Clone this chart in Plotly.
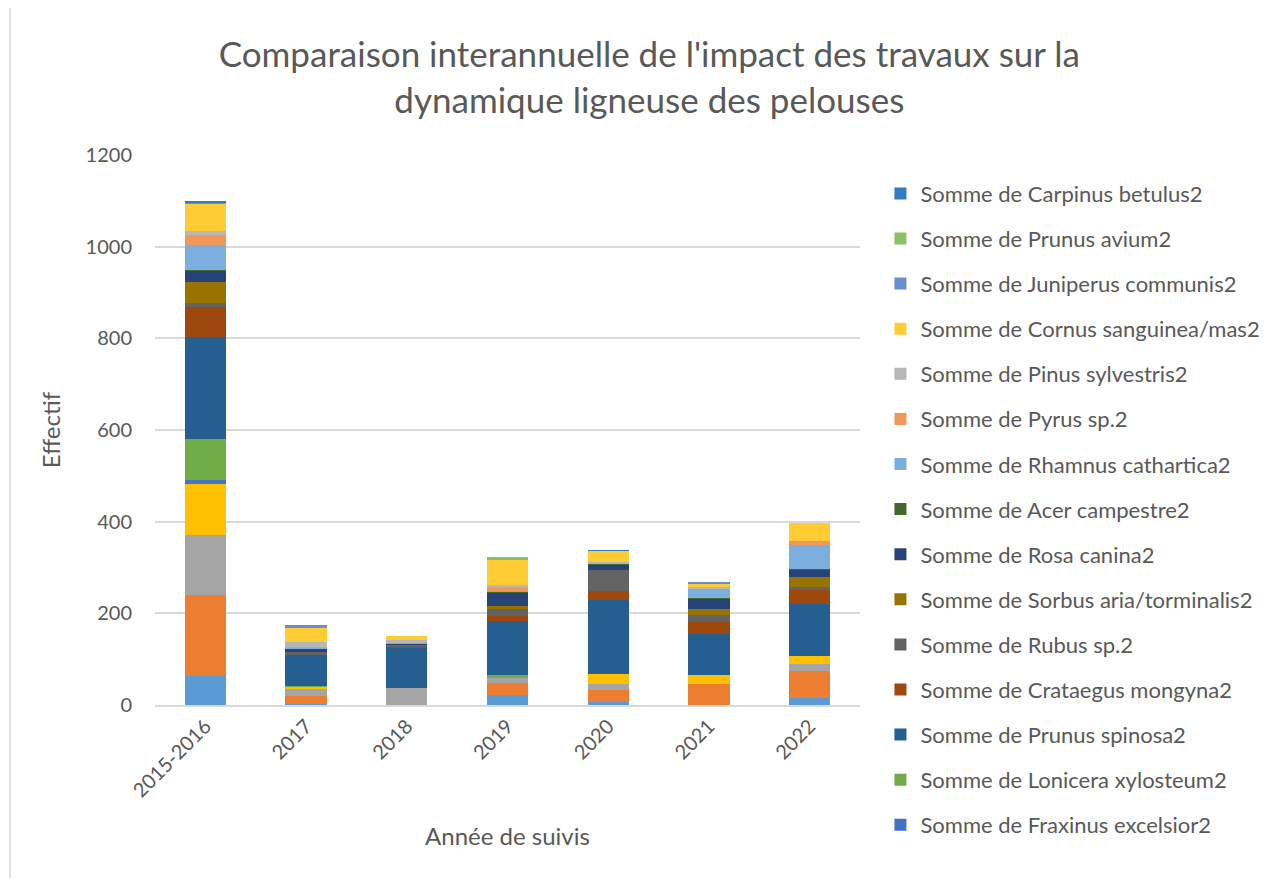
import plotly.graph_objects as go

# categories on the x axis
years = ["2015-2016", "2017", "2018", "2019", "2020", "2021", "2022"]

# series in stacking order (bottom -> top); the first four are not shown in the legend
serie_1 = [64, 3, 0, 21, 7, 1, 16]
serie_2 = [175, 17, 1, 28, 25, 45, 59]
serie_3 = [132, 16, 37, 10, 13, 0, 15]
serie_4 = [112, 5, 0, 0, 23, 20, 16]
fraxinus = [7, 0, 0, 0, 0, 0, 0]
lonicera = [90, 1, 0, 7, 0, 0, 0]
prunus_spinosa = [223, 68, 88, 118, 162, 88, 115]
crataegus = [66, 0, 1, 11, 18, 28, 31]
rubus = [8, 5, 4, 14, 47, 14, 6]
sorbus = [45, 0, 0, 6, 0, 14, 21]
rosa = [25, 9, 3, 31, 11, 22, 17]
acer = [2, 0, 0, 1, 3, 1, 1]
rhamnus = [55, 1, 2, 2, 0, 22, 53]
pyrus = [22, 2, 0, 8, 0, 0, 7]
pinus = [8, 10, 6, 5, 3, 2, 0]
cornus = [60, 33, 9, 54, 24, 9, 40]
juniperus = [3, 4, 0, 0, 0, 1, 0]
prunus_avium = [0, 0, 0, 8, 0, 0, 0]
carpinus = [3, 0, 0, 0, 2, 0, 0]

series = [
    ("Somme de série 1", serie_1, "#5B9BD5", False),
    ("Somme de série 2", serie_2, "#ED7D31", False),
    ("Somme de série 3", serie_3, "#A5A5A5", False),
    ("Somme de série 4", serie_4, "#FFC000", False),
    ("Somme de Fraxinus excelsior2", fraxinus, "#4472C4", True),
    ("Somme de Lonicera xylosteum2", lonicera, "#70AD47", True),
    ("Somme de Prunus spinosa2", prunus_spinosa, "#255E91", True),
    ("Somme de Crataegus mongyna2", crataegus, "#9E480E", True),
    ("Somme de Rubus sp.2", rubus, "#636363", True),
    ("Somme de Sorbus aria/torminalis2", sorbus, "#997300", True),
    ("Somme de Rosa canina2", rosa, "#264478", True),
    ("Somme de Acer campestre2", acer, "#43682B", True),
    ("Somme de Rhamnus cathartica2", rhamnus, "#7CAFDD", True),
    ("Somme de Pyrus sp.2", pyrus, "#F1975A", True),
    ("Somme de Pinus sylvestris2", pinus, "#B7B7B7", True),
    ("Somme de Cornus sanguinea/mas2", cornus, "#FFCD33", True),
    ("Somme de Juniperus communis2", juniperus, "#698ED0", True),
    ("Somme de Prunus avium2", prunus_avium, "#8CC168", True),
    ("Somme de Carpinus betulus2", carpinus, "#327DC2", True),
]

FONT = "Lato, 'Open Sans', sans-serif"
TXT = "#595959"

fig = go.Figure()
for i, (name, vals, color, show) in enumerate(series):
    # legend lists the last series first, like Excel does for stacked bars
    fig.add_trace(go.Bar(
        x=years, y=vals, name=name, marker_color=color,
        marker_line_width=0, showlegend=show,
        legendgroup=f"g{i}", legendrank=100 - i,
    ))

fig.update_layout(
    barmode="stack",
    bargap=0.59,
    width=1270, height=870,
    paper_bgcolor="white", plot_bgcolor="white",
    font=dict(family=FONT, color=TXT, size=20),
    margin=dict(l=147, r=418, t=147, b=173),
    title=dict(
        text="Comparaison interannuelle de l'impact des travaux sur la<br>dynamique ligneuse des pelouses",
        x=0.505, xanchor="center", xref="container",
        y=0.932, yanchor="middle", yref="container",
        font=dict(size=35, color=TXT, family=FONT),
    ),
    legend=dict(
        x=1.029, xanchor="left", y=0.968, yanchor="top",
        traceorder="grouped", tracegroupgap=13.5,
        font=dict(size=22, color=TXT, family=FONT),
        itemwidth=30, bgcolor="rgba(0,0,0,0)", maxheight=760,
    ),
    xaxis=dict(
        title=dict(text="Année de suivis", font=dict(size=24, color=TXT), standoff=28),
        tickangle=-45, tickfont=dict(size=20, color=TXT),
        showline=True, linecolor="#D9D9D9", linewidth=1.5,
        showgrid=False, ticks="",
    ),
    yaxis=dict(
        title=dict(text="Effectif", font=dict(size=24, color=TXT), standoff=18),
        range=[0, 1200], dtick=200, tickfont=dict(size=20, color=TXT),
        ticklabelstandoff=22,
        showgrid=True, gridcolor="#D9D9D9", gridwidth=1.5,
        zeroline=False, showline=False, ticks="",
    ),
    shapes=[dict(
        type="line", xref="paper", yref="paper",
        x0=-0.2057, x1=-0.2057, y0=-0.32, y1=1.3,
        line=dict(color="#D9D9D9", width=1.5),
    )],
)

fig.write_html("out.html")
